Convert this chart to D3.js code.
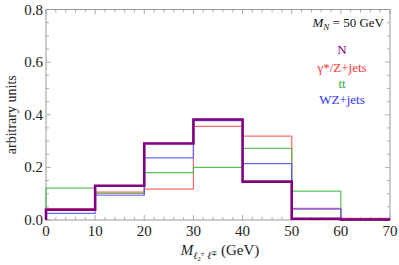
<!DOCTYPE html>
<html>
<head>
<meta charset="utf-8">
<script src="https://cdn.jsdelivr.net/npm/d3@7"></script>
<style>
  body { margin: 0; background: #fff; }
  svg text { font-family: "Liberation Serif", "Times New Roman", "DejaVu Serif", serif; }
</style>
</head>
<body>
<div id="chart"></div>
<script>
// bin edges (GeV)
const binEdges = [0, 10, 20, 30, 40, 50, 60, 70];
// normalised histogram heights per bin
const sigN   = [0.039, 0.130, 0.291, 0.382, 0.146, 0.005, 0.002];
const dyJets = [0.043, 0.106, 0.117, 0.356, 0.319, 0.044, 0.006];
const ttbar  = [0.121, 0.100, 0.180, 0.200, 0.272, 0.110, 0.000];
const wzJets = [0.025, 0.094, 0.236, 0.378, 0.214, 0.041, 0.000];

const xTicks = [0, 10, 20, 30, 40, 50, 60, 70];
const yTicks = [0.0, 0.2, 0.4, 0.6, 0.8];

const series = [
  { name: "γ*/Z+jets", vals: dyJets, color: "#ff5050", w: 1.2 },
  { name: "tt", vals: ttbar, color: "#3fb53f", w: 1.2 },
  { name: "WZ+jets", vals: wzJets, color: "#5050ff", w: 1.2 },
  { name: "N", vals: sigN, color: "#800080", w: 2.6 }
];

const W = 399, H = 265;
const margin = { top: 9.5, right: 9, bottom: 45, left: 46 };
const serif = "'Liberation Serif', 'Times New Roman', serif";

const svg = d3.select("#chart").append("svg")
  .attr("width", W).attr("height", H)
  .attr("font-family", serif);

const x = d3.scaleLinear().domain([0, 70]).range([margin.left, W - margin.right]);
const y = d3.scaleLinear().domain([0, 0.8]).range([H - margin.bottom, margin.top]);

// frame
svg.append("rect")
  .attr("x", x(0)).attr("y", y(0.8))
  .attr("width", x(70) - x(0)).attr("height", y(0) - y(0.8))
  .attr("fill", "none").attr("stroke", "#999").attr("stroke-width", 1);

// inward ticks on all four sides
const xMinor = d3.range(0, 70.01, 2);
const yMinor = d3.range(0, 0.801, 0.05);
const tickG = svg.append("g").attr("stroke", "#999").attr("stroke-width", 0.8);
xMinor.forEach(v => {
  const major = Math.abs(v % 10) < 1e-6;
  const len = major ? 5 : 3;
  tickG.append("line").attr("x1", x(v)).attr("x2", x(v))
    .attr("y1", y(0)).attr("y2", y(0) - len);
  tickG.append("line").attr("x1", x(v)).attr("x2", x(v))
    .attr("y1", y(0.8)).attr("y2", y(0.8) + len);
});
yMinor.forEach(v => {
  const k = Math.round(v * 100);
  const len = k % 20 === 0 ? 5 : 3;
  tickG.append("line").attr("y1", y(v)).attr("y2", y(v))
    .attr("x1", x(0)).attr("x2", x(0) + len);
  tickG.append("line").attr("y1", y(v)).attr("y2", y(v))
    .attr("x1", x(70)).attr("x2", x(70) - len);
});

// tick labels
svg.append("g").selectAll("text").data(xTicks).join("text")
  .attr("x", d => x(d)).attr("y", y(0) + 16)
  .attr("text-anchor", "middle").attr("font-size", 15).attr("fill", "#222")
  .text(d => d);
svg.append("g").selectAll("text").data(yTicks).join("text")
  .attr("x", x(0) - 3).attr("y", d => y(d) + 5)
  .attr("text-anchor", "end").attr("font-size", 15).attr("fill", "#222")
  .text(d => d.toFixed(1));

// histograms as step lines
const stepLine = d3.line().curve(d3.curveStepAfter)
  .x(d => x(d[0])).y(d => y(d[1]));
series.forEach(s => {
  const last = s.vals[s.vals.length - 1];
  const pts = [[0, 0]].concat(binEdges.slice(0, -1).map((e, i) => [e, s.vals[i]]), [[70, last]]);
  svg.append("path")
    .attr("d", stepLine(pts))
    .attr("fill", "none").attr("stroke", s.color).attr("stroke-width", s.w)
    .attr("stroke-opacity", s.name === "N" ? 1 : 0.85);
});

// axis titles
svg.append("text")
  .attr("transform", `translate(16,${(y(0) + y(0.8)) / 2}) rotate(-90)`)
  .attr("text-anchor", "middle").attr("font-size", 14).attr("fill", "#222")
  .text("arbitrary units");

const xl = svg.append("text")
  .attr("x", 220).attr("y", 255)
  .attr("text-anchor", "middle").attr("font-size", 15).attr("fill", "#222");
xl.append("tspan").attr("font-style", "italic").text("M");
xl.append("tspan").attr("font-size", 10).attr("dy", 4).attr("font-style", "italic").text("ℓ");
xl.append("tspan").attr("font-size", 7).attr("dy", 2).text("2");
xl.append("tspan").attr("font-size", 7).attr("dy", -5).text("±");
xl.append("tspan").attr("font-size", 10).attr("dy", 3).attr("font-style", "italic").text(" ℓ");
xl.append("tspan").attr("font-size", 7).attr("dy", -3).text("∓");
xl.append("tspan").attr("dy", -1).text(" (GeV)");

// mass label
const ml = svg.append("text")
  .attr("x", 384).attr("y", 27).attr("text-anchor", "end")
  .attr("font-size", 13).attr("fill", "#111");
ml.append("tspan").attr("font-style", "italic").text("M");
ml.append("tspan").attr("font-style", "italic").attr("font-size", 9).attr("dy", 3).text("N");
ml.append("tspan").attr("dy", -3).text(" = 50 GeV");

// legend
const legend = [
  { name: "N", color: "#800080", y: 54 },
  { name: "γ*/Z+jets", color: "#ff3333", y: 72 },
  { name: "tt", color: "#33aa33", y: 88 },
  { name: "WZ+jets", color: "#3333ff", y: 104 }
];
svg.append("g").selectAll("text").data(legend).join("text")
  .attr("x", 342).attr("y", d => d.y).attr("text-anchor", "middle")
  .attr("font-size", 13).attr("fill", d => d.color)
  .text(d => d.name);
</script>
</body>
</html>
